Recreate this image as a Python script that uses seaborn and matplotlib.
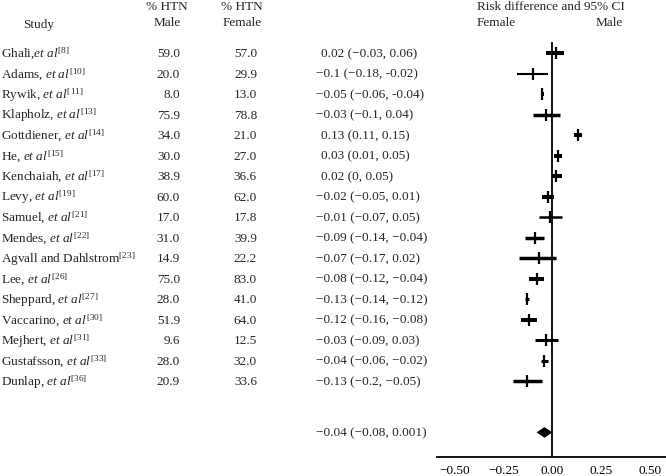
import numpy as np
import pandas as pd
import matplotlib
matplotlib.use("Agg")
import matplotlib.pyplot as plt
import matplotlib.transforms as mtransforms
import seaborn as sns

# Study rows (top to bottom)
studies = [
    r"Ghali,$\mathit{et\ al}^{[8]}$",
    r"Adams, $\mathit{et\ al}^{[10]}$",
    r"Rywik, $\mathit{et\ al}^{[11]}$",
    r"Klapholz, $\mathit{et\ al}^{[13]}$",
    r"Gottdiener, $\mathit{et\ al}^{[14]}$",
    r"He, $\mathit{et\ al}^{[15]}$",
    r"Kenchaiah, $\mathit{et\ al}^{[17]}$",
    r"Levy, $\mathit{et\ al}^{[19]}$",
    r"Samuel, $\mathit{et\ al}^{[21]}$",
    r"Mendes, $\mathit{et\ al}^{[22]}$",
    r"Agvall and Dahlstrom$^{[23]}$",
    r"Lee, $\mathit{et\ al}^{[26]}$",
    r"Sheppard, $\mathit{et\ al}^{[27]}$",
    r"Vaccarino, $\mathit{et\ al}^{[30]}$",
    r"Mejhert, $\mathit{et\ al}^{[31]}$",
    r"Gustafsson, $\mathit{et\ al}^{[33]}$",
    r"Dunlap, $\mathit{et\ al}^{[36]}$",
]
htn_male = ["59.0", "20.0", "8.0", "75.9", "34.0", "30.0", "38.9", "60.0", "17.0",
            "31.0", "14.9", "75.0", "28.0", "51.9", "9.6", "28.0", "20.9"]
htn_female = ["57.0", "29.9", "13.0", "78.8", "21.0", "27.0", "36.6", "62.0", "17.8",
              "39.9", "22.2", "83.0", "41.0", "64.0", "12.5", "32.0", "33.6"]
rd_est = [0.02, -0.1, -0.05, -0.03, 0.13, 0.03, 0.02, -0.02, -0.01,
          -0.09, -0.07, -0.08, -0.13, -0.12, -0.03, -0.04, -0.13]
rd_lo = [-0.03, -0.18, -0.06, -0.1, 0.11, 0.01, 0.0, -0.05, -0.07,
         -0.14, -0.17, -0.12, -0.14, -0.16, -0.09, -0.06, -0.2]
rd_hi = [0.06, -0.02, -0.04, 0.04, 0.15, 0.05, 0.05, 0.01, 0.05,
         -0.04, 0.02, -0.04, -0.12, -0.08, 0.03, -0.02, -0.05]
rd_text = [
    "0.02 (\u22120.03, 0.06)",
    "\u22120.1 (\u22120.18, -0.02)",
    "\u22120.05 (\u22120.06, -0.04)",
    "\u22120.03 (\u22120.1, 0.04)",
    "0.13 (0.11, 0.15)",
    "0.03 (0.01, 0.05)",
    "0.02 (0, 0.05)",
    "\u22120.02 (\u22120.05, 0.01)",
    "\u22120.01 (\u22120.07, 0.05)",
    "\u22120.09 (\u22120.14, \u22120.04)",
    "\u22120.07 (\u22120.17, 0.02)",
    "\u22120.08 (\u22120.12, \u22120.04)",
    "\u22120.13 (\u22120.14, \u22120.12)",
    "\u22120.12 (\u22120.16, \u22120.08)",
    "\u22120.03 (\u22120.09, 0.03)",
    "\u22120.04 (\u22120.06, \u22120.02)",
    "\u22120.13 (\u22120.2, \u22120.05)",
]
# pooled estimate
pooled_est, pooled_lo, pooled_hi = -0.04, -0.08, 0.001
pooled_text = "\u22120.04 (\u22120.08, 0.001)"

x_ticks = [-0.50, -0.25, 0.00, 0.25, 0.50]

# line thickness of each CI bar (pt), as drawn in the original
ci_widths = [2.9, 1.5, 2.9, 2.5, 2.9, 2.9, 2.9, 2.9, 1.8,
             2.5, 2.5, 2.9, 2.2, 2.9, 2.2, 2.2, 2.5]

sns.set_theme(style="white")
plt.rcParams["font.family"] = ["Liberation Serif", "DejaVu Serif"]
plt.rcParams["mathtext.fontset"] = "custom"
plt.rcParams["mathtext.rm"] = "Liberation Serif"
plt.rcParams["mathtext.it"] = "Liberation Serif:italic"
plt.rcParams["mathtext.default"] = "regular"

W, H = 666, 477
fig = plt.figure(figsize=(W / 100, H / 100), dpi=100)
ax = fig.add_axes([437 / W, 1 - 458 / H, 229 / W, 415 / H])

df = pd.DataFrame({"row": np.arange(len(studies)), "est": rd_est, "lo": rd_lo, "hi": rd_hi})
pooled_row = len(studies) + 1.5

for r, lo, hi, lw in zip(df["row"], df["lo"], df["hi"], ci_widths):
    ax.plot([lo, hi], [r, r], color="black", lw=lw, solid_capstyle="butt")
sns.scatterplot(data=df, x="est", y="row", marker="|", s=70, linewidth=1.6,
                color="black", ax=ax, legend=False, zorder=3)

# pooled diamond
dh = 0.26
ax.fill([pooled_lo, pooled_est, pooled_hi, pooled_est],
        [pooled_row, pooled_row - dh, pooled_row, pooled_row + dh], color="black", lw=0)

ax.axvline(0, color="black", lw=1.3)
ax.set_xlim(-0.588, 0.58)
ax.set_ylim(19.7, -0.54)
ax.set_xticks(x_ticks)
ax.set_xticklabels([f"{t:.2f}".replace("-", "\u2212") for t in x_ticks], fontsize=9.5)
ax.tick_params(axis="x", length=0, pad=5, colors="black")
ax.set_yticks([])
ax.set_xlabel("")
ax.set_ylabel("")
sns.despine(ax=ax, left=True)
ax.spines["bottom"].set_color("black")
ax.spines["bottom"].set_linewidth(1.3)

# text columns, x in figure pixels, y tied to the row positions
trans = mtransforms.blended_transform_factory(fig.transFigure, ax.transData)
fs = 9.5
for i in range(len(studies)):
    ax.text(1 / W, i, studies[i], transform=trans, ha="left", va="center", fontsize=fs, clip_on=False)
    ax.text(180 / W, i, htn_male[i], transform=trans, ha="right", va="center", fontsize=fs, clip_on=False)
    ax.text(257 / W, i, htn_female[i], transform=trans, ha="right", va="center", fontsize=fs, clip_on=False)
    x0 = 321 if rd_est[i] >= 0 else 316
    ax.text(x0 / W, i, rd_text[i], transform=trans, ha="left", va="center", fontsize=fs, clip_on=False)
ax.text(316 / W, pooled_row, pooled_text, transform=trans, ha="left", va="center", fontsize=fs, clip_on=False)

# headers
fig.text(39 / W, 1 - 25 / H, "Study", ha="center", va="center", fontsize=fs)
for xc, sub in [(167, "Male"), (242, "Female")]:
    fig.text(xc / W, 1 - 7 / H, "% HTN", ha="center", va="center", fontsize=fs)
    fig.text(xc / W, 1 - 23 / H, sub, ha="center", va="center", fontsize=fs)
fig.text(477 / W, 1 - 7 / H, "Risk difference and 95% CI", ha="left", va="center", fontsize=fs)
fig.text(477 / W, 1 - 23 / H, "Female", ha="left", va="center", fontsize=fs)
fig.text(623 / W, 1 - 23 / H, "Male", ha="right", va="center", fontsize=fs)

fig.savefig("out.png", dpi=100)
